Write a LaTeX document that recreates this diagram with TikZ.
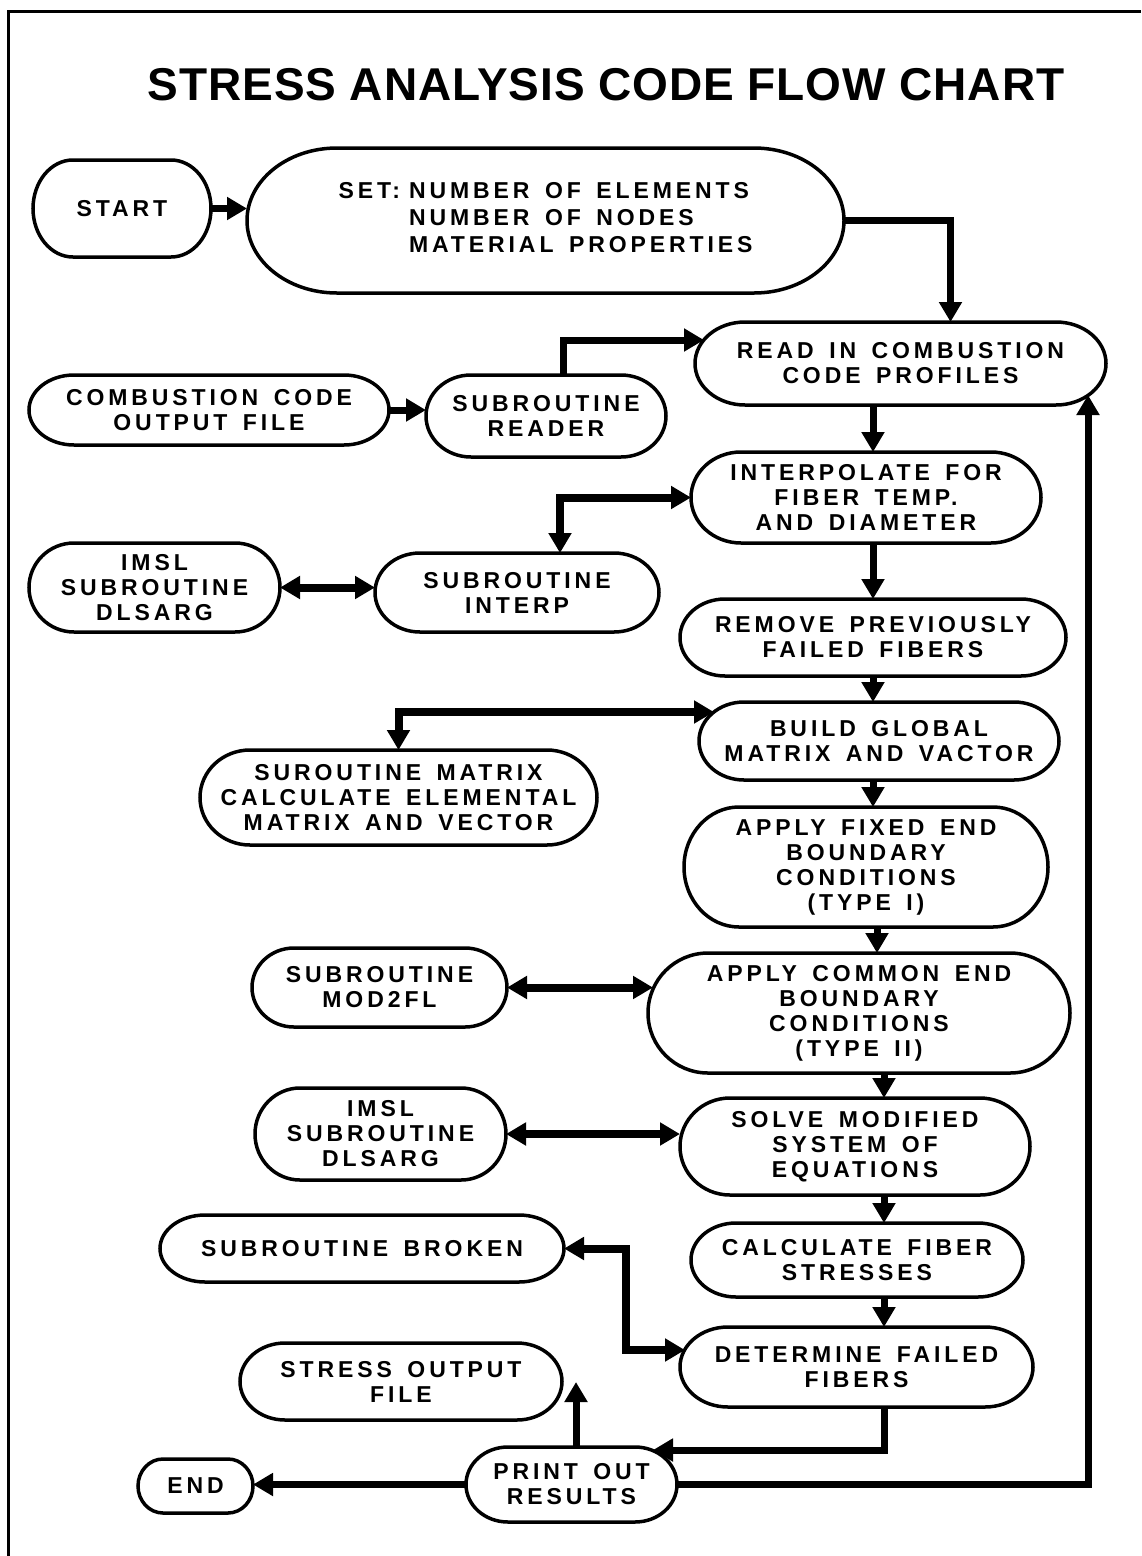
\documentclass[tikz,border=0pt]{standalone}
\usepackage{fontspec}
\setmainfont{Liberation Sans}
\newfontfamily\boxfont[LetterSpace=17,WordSpace=1.5]{Liberation Sans}
\newfontfamily\titlefont[LetterSpace=2]{Liberation Sans}
\usetikzlibrary{arrows.meta,calc}
\tikzset{
  boxtxt/.style={inner sep=0pt, outer sep=0pt, align=center,
    font=\boxfont\bfseries\fontsize{23}{25}\selectfont},
  boxln/.style={line width=3.5pt},
  flow/.style={line width=7pt, -{Triangle[length=20pt,width=22pt]}},
  both/.style={line width=8pt, {Triangle[length=20pt,width=22pt]}-{Triangle[length=20pt,width=22pt]}},
  ret/.style={line width=7pt, -{Triangle[length=20pt,width=22pt]}},
}
% name, cx, cy, half width, half height, end radius, text
\newcommand\capsule[7]{%
  \node[boxtxt, minimum width=2*#4pt, minimum height=2*#5pt] (#1) at (#2,#3) {#7};
  \draw[boxln] (#2-#4+#6,#3-#5) -- (#2+#4-#6,#3-#5)
    arc[start angle=90,end angle=-90,x radius=#6pt,y radius=#5pt]
    -- (#2-#4+#6,#3+#5)
    arc[start angle=270,end angle=90,x radius=#6pt,y radius=#5pt] -- cycle;
}
\begin{document}
\begin{tikzpicture}[x=1pt,y=-1pt]
\useasboundingbox (0,0) rectangle (1141,1556);
\fill[white] (0,0) rectangle (1141,1556);
\draw[line width=3pt] (8,1556) -- (8,11) -- (1141,11);
\node[font=\titlefont\bfseries\fontsize{46}{50}\selectfont, anchor=base, inner sep=0pt] (title) at (606,100) {STRESS ANALYSIS CODE FLOW CHART};

\capsule{start}{122}{208.5}{89}{48.5}{40}{START}
\capsule{set}{545.5}{220.5}{298.5}{72.5}{90}{\fontsize{23}{27}\selectfont\begin{tabular}{@{}l@{\hspace{9pt}}l@{}}SET: & NUMBER OF ELEMENTS\\ & NUMBER OF NODES\\ & MATERIAL PROPERTIES\end{tabular}}
\capsule{read}{900.5}{363.5}{205.5}{41.5}{50}{READ IN COMBUSTION\\CODE PROFILES}
\capsule{comb}{209}{410}{180}{35}{45}{COMBUSTION CODE\\OUTPUT FILE}
\capsule{reader}{546}{416}{120}{41}{45}{SUBROUTINE\\READER}
\capsule{interpol}{866}{497.5}{175}{45.5}{50}{INTERPOLATE FOR\\FIBER TEMP.\\AND DIAMETER}
\capsule{remove}{873}{637.5}{193}{38.5}{45}{REMOVE PREVIOUSLY\\FAILED FIBERS}
\capsule{interp}{517}{592.5}{142}{39.5}{45}{SUBROUTINE\\INTERP}
\capsule{imslA}{154.5}{587.5}{125.5}{44.5}{45}{IMSL\\SUBROUTINE\\DLSARG}
\capsule{build}{879}{741}{180}{39}{45}{BUILD GLOBAL\\MATRIX AND VACTOR}
\capsule{matrix}{398.5}{797.5}{198.5}{47.5}{50}{SUROUTINE MATRIX\\CALCULATE ELEMENTAL\\MATRIX AND VECTOR}
\capsule{fixed}{866}{867}{182}{60}{55}{APPLY FIXED END\\BOUNDARY\\CONDITIONS\\(TYPE I)}
\capsule{common}{859}{1013}{211}{60}{60}{APPLY COMMON END\\BOUNDARY\\CONDITIONS\\(TYPE II)}
\capsule{mod}{379.5}{987.5}{127.5}{39.5}{42}{SUBROUTINE\\MOD2FL}
\capsule{solve}{855}{1146.5}{175}{48.5}{50}{SOLVE MODIFIED\\SYSTEM OF\\EQUATIONS}
\capsule{imslB}{380.5}{1134}{125.5}{46}{45}{IMSL\\SUBROUTINE\\DLSARG}
\capsule{calc}{857}{1260}{166}{37}{45}{CALCULATE FIBER\\STRESSES}
\capsule{broken}{362}{1248.5}{202}{33.5}{45}{SUBROUTINE BROKEN}
\capsule{determ}{856.5}{1367}{176.5}{40}{48}{DETERMINE FAILED\\FIBERS}
\capsule{stressout}{401}{1381.5}{161}{38.5}{45}{STRESS OUTPUT\\FILE}
\capsule{print}{571.5}{1484.5}{105.5}{37.5}{42}{PRINT OUT\\RESULTS}
\capsule{endn}{195.5}{1486}{57.5}{27}{25}{END}

\coordinate (readin) at (704,340);
\coordinate (readret) at (1088,395);
\coordinate (buildin) at (714,712);
\coordinate (commonin) at (653,990);
\coordinate (detin) at (685,1350);
\coordinate (printin) at (653,1450);
\coordinate (stressin) at (576,1382);

\draw[flow] (start.east) -- (start.east -| set.west);
\draw[flow] (set.east) -| ([xshift=50pt]read.north);
\draw[flow] (comb.east) -- (comb.east -| reader.west);
\draw[flow] ([xshift=17pt]reader.north) |- (readin);
\draw[flow] ([xshift=-27.5pt]read.south) -- ([xshift=-27.5pt]read.south |- interpol.north);
\draw[flow] ([xshift=7pt]interpol.south) -- ([xshift=7pt]interpol.south |- remove.north);
\draw[both] (interpol.west) -| ([xshift=43pt]interp.north);
\draw[both] (imslA.east) -- (imslA.east -| interp.west);
\draw[flow] (remove.south) -- (remove.south |- build.north);
\draw[both] (buildin) -| (matrix.north);
\draw[flow] ([xshift=-6pt]build.south) -- ([xshift=-6pt]build.south |- fixed.north);
\draw[flow] ([xshift=11pt]fixed.south) -- ([xshift=11pt]fixed.south |- common.north);
\draw[both] (mod.east) -- (mod.east -| commonin);
\draw[flow] ([xshift=25pt]common.south) -- ([xshift=25pt]common.south |- solve.north);
\draw[both] (imslB.east) -- (imslB.east -| solve.west);
\draw[flow] ([xshift=29pt]solve.south) -- ([xshift=29pt]solve.south |- calc.north);
\draw[both] (broken.east) -- ++(62,0) |- (detin);
\draw[flow] ([xshift=27pt]calc.south) -- ([xshift=27pt]calc.south |- determ.north);
\draw[flow] ([xshift=27.5pt]determ.south) |- (printin);
\draw[flow] ([xshift=4.5pt]print.north) -- (stressin);
\draw[flow] (print.west) -- (print.west -| endn.east);
\draw[ret] (print.east) -| (readret);
\end{tikzpicture}
\end{document}
